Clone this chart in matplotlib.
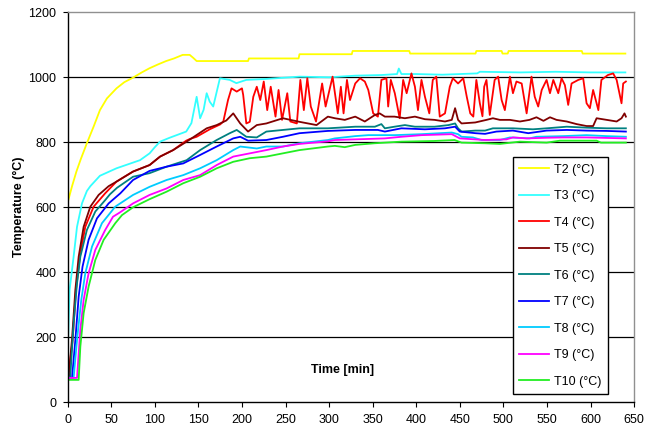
import matplotlib
matplotlib.use("Agg")
import matplotlib.pyplot as plt

# ============================================================
# Data
# ============================================================
t2 = [0, 5, 10, 15, 22, 30, 37, 45, 56, 65, 75, 85, 94, 104, 113, 122, 132, 140, 144, 148,
      207, 208, 265, 266, 326, 327, 392, 393, 468, 469, 498, 499, 505, 506, 590, 591, 640]
T2 = [615, 665, 710, 748, 797, 850, 899, 935, 966, 985, 999, 1015, 1028, 1040, 1050, 1058, 1069, 1069, 1060, 1050,
      1050, 1058, 1058, 1071, 1071, 1081, 1081, 1073, 1073, 1081, 1081, 1073, 1073, 1081, 1081, 1073, 1073]

t3 = [0, 2.2, 6.8, 10.7, 16.4, 22, 26, 37, 56, 83, 94, 100, 106, 117, 136, 142, 148, 152, 156, 159.5,
      163, 167, 174.7, 186, 193.6, 205, 228, 266, 300, 330, 360, 378, 380, 383, 400, 430, 470, 473,
      520, 560, 600, 640]
T3 = [150, 346, 448, 540, 612, 650, 665, 697, 720, 745, 766, 785, 802, 814, 833, 859, 940, 874, 900, 951,
      925, 910, 997, 992, 982, 992, 995, 1002, 1000, 1005, 1007, 1010, 1027, 1010, 1010, 1008, 1012, 1017,
      1015, 1017, 1015, 1015]

t4 = [0, 5.7, 9.5, 14.5, 20.2, 29.8, 43, 56, 75, 94, 106, 121, 136, 140, 148, 163, 175, 178.6, 184, 188,
      194, 200, 201.4, 205, 209, 213, 217, 221, 225, 229, 233, 238.5, 242, 246, 252, 255.5, 263, 267, 271, 275,
      279, 285, 292, 296, 304, 310, 313.5, 316.6, 320.5, 324, 330, 335.5, 341, 345, 350.6, 356, 360, 365.8,
      367.8, 370.8, 375.4, 381, 385, 389, 394.5, 398.5, 402, 406, 410, 415, 419, 423, 427, 433, 438.5, 442,
      448, 454, 458, 462, 465.5, 469, 473, 476, 478, 480.6, 484.4, 490, 494, 498, 501.7, 507.5, 511, 515,
      521, 526.7, 532.3, 536, 540, 544, 549.6, 553.5, 557.3, 563, 566.8, 570.6, 574.4, 578.3, 586, 591.6,
      595.5, 599.3, 603, 607, 609, 612.5, 620, 626, 630, 635.6, 637.5, 640.6]
T4 = [63, 192, 346, 458, 540, 602, 643, 679, 710, 730, 756, 776, 805, 810, 817, 840, 855, 864, 930, 966,
      956, 966, 946, 858, 863, 940, 971, 930, 987, 899, 971, 879, 961, 869, 951, 864, 858, 992, 899, 997,
      910, 864, 981, 910, 1002, 889, 971, 889, 992, 930, 981, 997, 987, 961, 889, 879, 992, 997,
      910, 992, 951, 874, 992, 951, 1012, 971, 899, 992, 940, 889, 992, 1002, 879, 889, 971, 997,
      981, 997, 940, 889, 879, 992, 920, 880, 971, 992, 884, 992, 1002, 930, 899, 1002, 951, 987,
      981, 889, 1002, 940, 910, 961, 992, 951, 992, 951, 997, 976, 915, 981, 992, 997,
      920, 905, 961, 920, 899, 992, 1007, 1012, 992, 920, 981, 987]

t5 = [0, 1.1, 4.9, 8.8, 12.6, 18.3, 26, 35.5, 47, 56, 75, 94, 106, 121, 136.5, 159.5, 171, 182, 190, 198,
      207, 217, 228, 247, 266, 285.6, 298.6, 306.6, 318, 330, 341, 352.5, 358, 364, 375, 387, 398.5, 410,
      421, 433, 440.8, 444.6, 448, 452, 467.7, 480.6, 488, 496, 507.5, 519, 530, 538, 546, 553.5, 561,
      572.7, 584, 595.5, 603, 607, 618.6, 630, 635.6, 639, 640.6]
T5 = [100, 80, 192, 346, 448, 540, 602, 638, 665, 679, 710, 730, 756, 776, 802, 843, 853, 867, 889, 858,
      833, 853, 858, 874, 863, 853, 879, 874, 869, 879, 864, 884, 889, 879, 879, 874, 879, 871,
      869, 864, 869, 905, 869, 858, 861, 869, 874, 869, 869, 864, 869, 877, 866, 877, 869,
      864, 856, 850, 850, 874, 869, 864, 874, 889, 879]

t6 = [0, 3, 6.8, 10.7, 14.5, 22, 31.7, 43, 48.5, 56.6, 75, 94, 113.5, 136.5, 152, 171, 186, 194, 205, 217,
      228, 266, 298.6, 330, 352.5, 360, 364, 375, 387, 398.5, 421, 437, 444.6, 448, 452, 467.7, 479, 488,
      511, 534, 549.6, 572.7, 595.5, 618.6, 640.6]
T6 = [70, 80, 243, 366, 448, 530, 587, 622, 640, 660, 694, 705, 725, 745, 776, 807, 828, 838, 817, 815,
      833, 843, 843, 848, 848, 856, 843, 848, 853, 848, 848, 853, 858, 843, 833, 836, 836, 843,
      843, 840, 843, 848, 845, 843, 843]

t7 = [0, 5, 8.8, 12.6, 17, 24, 33.6, 47, 60.4, 75, 94, 113.5, 132.6, 152, 171, 190, 198, 207, 228, 247,
      266, 298.6, 330, 356, 364, 383, 410, 433, 444.6, 450, 468, 479, 492, 511, 528.6, 549.6, 572.7,
      595.5, 618.6, 640.6]
T7 = [75, 75, 192, 325, 417, 500, 566, 612, 643, 684, 712, 725, 735, 761, 787, 812, 817, 805, 807, 817,
      828, 835, 838, 838, 833, 843, 840, 843, 848, 833, 828, 826, 833, 836, 828, 836, 838,
      836, 835, 833]

t8 = [0, 6.8, 10.7, 15.6, 20.2, 27.9, 39.3, 54.6, 75, 94, 113.5, 132.6, 152, 171, 190, 198, 217, 228, 247,
      266, 298.6, 306.6, 330, 345, 375, 406, 440.8, 448, 452, 465, 475, 496, 507.5, 530, 538, 568.7,
      595.5, 618.6, 640.6]
T8 = [75, 75, 192, 315, 397, 479, 551, 602, 638, 663, 684, 699, 720, 745, 776, 787, 781, 787, 787,
      797, 807, 812, 819, 822, 822, 825, 830, 825, 817, 815, 807, 807, 815, 812, 817, 819,
      822, 819, 817]

t9 = [0, 10.7, 14.5, 18.3, 24, 31.7, 43, 52, 60.4, 75, 94, 113.5, 132.6, 152, 171, 190, 209, 228, 247,
      266, 298.6, 306.6, 330, 364, 383, 406, 440.8, 450, 479, 503.5, 511, 526.7, 549.6, 568.7, 595.5, 640.6]
T9 = [75, 75, 223, 315, 397, 469, 530, 571, 585, 612, 638, 658, 684, 699, 730, 756, 766, 776, 787,
      795, 803, 807, 809, 812, 817, 822, 825, 812, 807, 809, 815, 812, 814, 815, 815, 812]

t10 = [0, 12.6, 14.5, 18.3, 24, 31.7, 41.3, 54.6, 62.3, 75, 94, 113.5, 132.6, 152, 171, 190, 209, 228, 247,
       266, 298.6, 306.6, 318, 330, 352, 383, 420, 444, 452, 479, 496, 519, 549.6, 565, 607, 612, 640.6]
T10 = [69, 69, 171, 274, 356, 438, 500, 551, 576, 600, 625, 648, 674, 694, 720, 740, 751, 756, 766,
       776, 787, 789, 785, 792, 797, 802, 804, 807, 799, 797, 795, 802, 799, 805, 805, 799, 799]

series = [
    (t2, T2, "T2 (°C)", "#FFFF00"),
    (t3, T3, "T3 (°C)", "#33FFFF"),
    (t4, T4, "T4 (°C)", "#FF0000"),
    (t5, T5, "T5 (°C)", "#800000"),
    (t6, T6, "T6 (°C)", "#008080"),
    (t7, T7, "T7 (°C)", "#0000FF"),
    (t8, T8, "T8 (°C)", "#00CCFF"),
    (t9, T9, "T9 (°C)", "#FF00FF"),
    (t10, T10, "T10 (°C)", "#22EE22"),
]

xticks = list(range(0, 651, 50))
yticks = list(range(0, 1201, 200))

# ============================================================
# Plot
# ============================================================
plt.rcParams["font.family"] = ["Liberation Sans", "DejaVu Sans"]
plt.rcParams["font.size"] = 9

fig = plt.figure(figsize=(6.49, 4.36), dpi=100)
ax = fig.add_axes([0.1043, 0.0773, 0.8727, 0.8945])

# horizontal grid lines (black, like Excel)
for y in yticks[1:-1]:
    ax.axhline(y, color="black", lw=0.9, zorder=1)

for t, T, label, col in series:
    ax.plot(t, T, color=col, lw=1.3, label=label, zorder=2)

ax.set_xlim(0, 650)
ax.set_ylim(0, 1200)
ax.set_xticks(xticks)
ax.set_yticks(yticks)
ax.tick_params(direction="out", length=3.6, width=0.8, pad=4.5, labelsize=9)

for side in ["top", "right"]:
    ax.spines[side].set_color("#909090")
    ax.spines[side].set_linewidth(1.0)
for side in ["left", "bottom"]:
    ax.spines[side].set_color("black")
    ax.spines[side].set_linewidth(1.0)

ax.text(0.485, 0.083, "Time [min]", transform=ax.transAxes, ha="center", va="center",
        fontsize=9, fontweight="bold")
fig.text(19 / 649, 0.525, "Temperature (°C)", rotation=90, ha="center", va="center",
         fontsize=9, fontweight="bold")

leg = ax.legend(loc="upper left", bbox_to_anchor=(512.7 / 649, 1 - 157.3 / 436),
                bbox_transform=fig.transFigure, borderaxespad=0, frameon=True,
                fancybox=False, framealpha=1, edgecolor="black", fontsize=9,
                handlelength=2.4, handletextpad=0.4, labelspacing=1.16, borderpad=0.5)
leg.get_frame().set_linewidth(1.0)

fig.savefig("out.png", dpi=100)
